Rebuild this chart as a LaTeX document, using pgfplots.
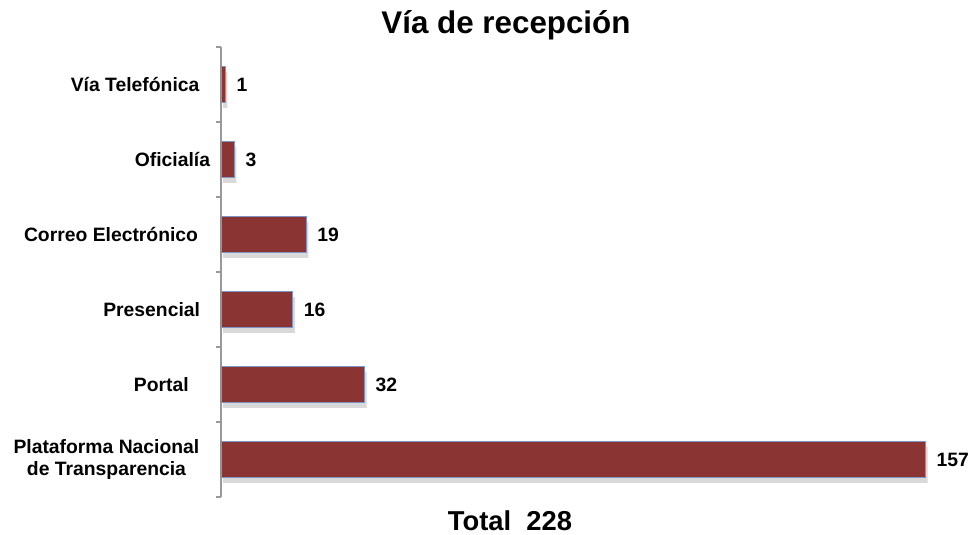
\documentclass[border=0pt]{standalone}
\usepackage{pgfplots}
\pgfplotsset{compat=1.18}
\usepackage{fontspec}
\setmainfont{Liberation Sans}
\definecolor{bardark}{RGB}{139,52,52}
\definecolor{barlight}{RGB}{178,68,68}
\definecolor{baredge}{RGB}{125,150,200}
\begin{document}
\begin{tikzpicture}
\useasboundingbox (0,0) rectangle (732pt,401.25pt);
\begin{axis}[
  at={(165.75pt,28.5pt)}, anchor=south west,
  scale only axis, width=538.5pt, height=337.5pt,
  xmin=0, xmax=160, ymin=-0.5, ymax=5.5,
  axis x line=none, axis y line*=left,
  axis line style={draw=gray!80, line width=0.8pt},
  clip=false,
  /pgf/number format/assume math mode=true,
  xbar, bar width=27pt,
  ytick={0,...,5},
  yticklabels={{Plataforma Nacional\hspace*{8pt}\\de Transparencia\hspace*{8pt}},{Portal\hspace*{16pt}},{Presencial\hspace*{7.5pt}},{Correo Electrónico\hspace*{9pt}},{Oficialía},{Vía Telefónica\hspace*{8pt}}},
  yticklabel style={font=\bfseries\fontsize{14.5}{16.5}\selectfont, align=center, inner sep=0pt, xshift=-8pt},
  major tick length=0pt,
  minor ytick={-0.5,0.5,...,5.5},
  minor tick length=4pt,
  tick align=outside,
  minor tick style={draw=gray!80, line width=0.8pt},
  nodes near coords,
  nodes near coords style={font=\bfseries\fontsize{14.5}{16.5}\selectfont, anchor=west, inner sep=0pt, xshift=8pt, text=black},
]
\addplot[
  fill=bardark, draw=baredge, line width=0.6pt,
  preaction={fill=black, opacity=0.15, draw=none, transform canvas={xshift=1.5pt,yshift=-4pt}},
] coordinates {(157,0) (32,1) (16,2) (19,3) (3,4) (1,5)};
\end{axis}
\node[font=\bfseries\fontsize{23.5}{28}\selectfont] at (379.5pt,382.5pt) {Vía de recepción};
\node[font=\bfseries\fontsize{20.5}{24}\selectfont] at (382.5pt,10.5pt) {Total\ \ 228};
\end{tikzpicture}
\end{document}
